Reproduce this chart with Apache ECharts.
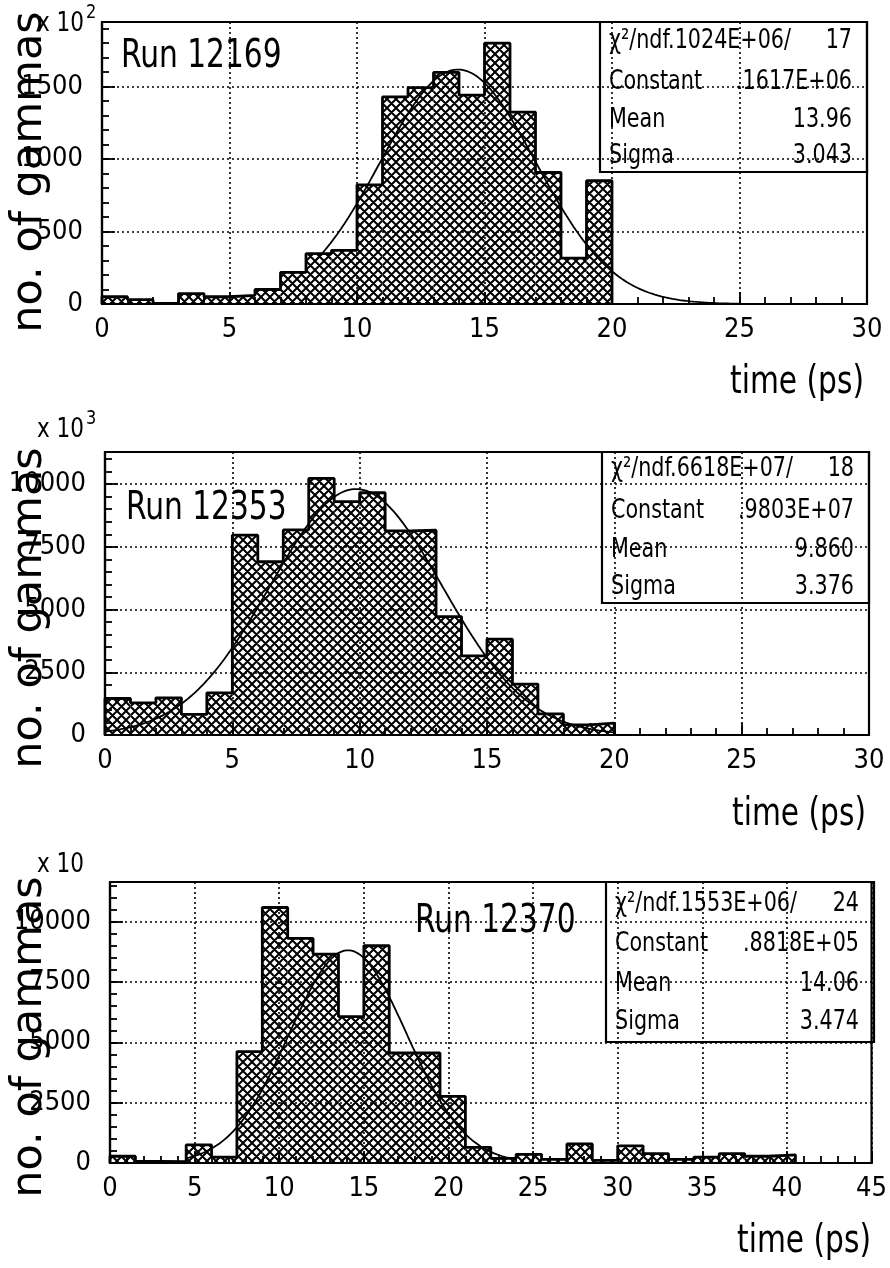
<!DOCTYPE html>
<html>
<head>
<meta charset="utf-8">
<script src="https://cdn.jsdelivr.net/npm/echarts@6/dist/echarts.min.js"></script>
<style>
  html, body { margin: 0; padding: 0; background: #fff; }
  #chart { width: 890px; height: 1268px; }
</style>
</head>
<body>
<div id="chart"></div>
<script>
// ---- Histogram contents (counts per bin, in units of the axis multiplier) ----
const runNames = ['Run 12169', 'Run 12353', 'Run 12370'];
const binWidths = [1, 1, 1.5];

const counts12169 = [50, 30, 5, 72, 50, 60, 100, 218, 347, 370,
                     822, 1428, 1493, 1597, 1440, 1799, 1324, 907, 317, 850];
const counts12353 = [1455, 1283, 1481, 820, 1680, 7963, 6905, 8175, 10225, 9300,
                     9656, 8135, 8161, 4720, 3150, 3820, 2030, 840, 400, 470];
const counts12370 = [280, 70, 60, 750, 240, 4620, 10593, 9310, 8662, 6069,
                     9007, 4560, 4560, 2759, 650, 190, 360, 150, 790, 110,
                     710, 390, 150, 240, 390, 280, 340];

// ---- Gaussian fit results (constant in axis units) ----
const fitConstant = [1617, 9803, 8818];
const fitMean = [13.96, 9.860, 14.06];
const fitSigma = [3.043, 3.376, 3.474];
const fitFrom = [8.4, 0, 4.5];
const fitTo = [25, 20, 24];

// ---- Statistics box text ----
const chiText = ['\u03C7\u00B2/ndf.1024E+06/', '\u03C7\u00B2/ndf.6618E+07/', '\u03C7\u00B2/ndf.1553E+06/'];
const ndfText = ['17', '18', '24'];
const constantText = ['.1617E+06', '.9803E+07', '.8818E+05'];
const meanText = ['13.96', '9.860', '14.06'];
const sigmaText = ['3.043', '3.376', '3.474'];

// ---- Axes ----
const xMax = [30, 30, 45];
const yMax = [1945, 11280, 11650];
const yMajor = [500, 2500, 2500];
const yMinor = [100, 500, 500];
const xMajor = 5, xMinor = 1;
const multiplier = ['2', '3', ''];   // exponent shown as "x 10^n"

// ---- Layout ----
const NARROW = '"Liberation Sans Narrow", "DejaVu Sans Condensed", "Arial Narrow", sans-serif';
const grids = [
  { left: 102, top: 22,  width: 765, height: 282 },
  { left: 105, top: 452, width: 764, height: 283 },
  { left: 110, top: 882, width: 764, height: 281 }
];

// cross-hatch fill tile
function makeHatch(size, lw) {
  const c = document.createElement('canvas');
  c.width = c.height = size;
  const g = c.getContext('2d');
  g.strokeStyle = '#000';
  g.lineWidth = lw;
  g.beginPath();
  for (const k of [-size, 0, size]) {
    g.moveTo(k, 0); g.lineTo(k + size, size);
    g.moveTo(k + size, 0); g.lineTo(k, size);
  }
  g.stroke();
  return c;
}
const hatch = { type: 'pattern', image: makeHatch(9, 2.0), repeat: 'repeat' };

const allCounts = [counts12169, counts12353, counts12370];
const DOTS = { color: '#000', width: 1.6, type: [2, 3] };

const xAxes = [], yAxes = [], series = [], graphics = [];

grids.forEach((gr, i) => {
  const base = { gridIndex: i, type: 'value', min: 0 };
  // major x axis with labels and dotted grid
  xAxes.push(Object.assign({}, base, {
    max: xMax[i], interval: xMajor, position: 'bottom',
    axisLine: { show: true, lineStyle: { color: '#000', width: 2.2 } },
    axisTick: { show: true, inside: true, length: 12, lineStyle: { color: '#000', width: 1.8 } },
    axisLabel: { show: true, margin: 12, color: '#000', fontSize: 27, fontFamily: NARROW,
      formatter: v => (v % xMajor === 0 ? String(v) : '') },
    splitLine: { show: true, lineStyle: DOTS }
  }));
  // minor x ticks
  xAxes.push(Object.assign({}, base, {
    max: xMax[i], interval: xMinor, position: 'bottom',
    axisLine: { show: false },
    axisTick: { show: true, inside: true, length: 7, lineStyle: { color: '#000', width: 1.8 } },
    axisLabel: { show: false },
    splitLine: { show: false }
  }));
  // major y axis
  yAxes.push(Object.assign({}, base, {
    max: yMax[i], interval: yMajor[i], position: 'left',
    axisLine: { show: true, lineStyle: { color: '#000', width: 2.2 } },
    axisTick: { show: true, inside: true, length: 13, lineStyle: { color: '#000', width: 1.8 } },
    axisLabel: { show: true, margin: 19, color: '#000', fontSize: 27, fontFamily: NARROW,
      formatter: v => (v % yMajor[i] === 0 ? String(v) : '') },
    splitLine: { show: true, lineStyle: DOTS }
  }));
  // minor y ticks
  yAxes.push(Object.assign({}, base, {
    max: yMax[i], interval: yMinor[i], position: 'left',
    axisLine: { show: false },
    axisTick: { show: true, inside: true, length: 7, lineStyle: { color: '#000', width: 1.8 } },
    axisLabel: { show: false },
    splitLine: { show: false }
  }));

  const w = binWidths[i];
  const counts = allCounts[i];
  const bins = counts.map((v, k) => [k * w, (k + 1) * w, v]);

  // hatched bins
  series.push({
    type: 'custom',
    xAxisIndex: 2 * i, yAxisIndex: 2 * i,
    data: bins,
    encode: { x: [0, 1], y: 2 },
    z: 3,
    renderItem: (params, api) => {
      const p0 = api.coord([api.value(0), api.value(2)]);
      const p1 = api.coord([api.value(1), 0]);
      return {
        type: 'rect',
        shape: { x: p0[0], y: p0[1], width: p1[0] - p0[0], height: p1[1] - p0[1] },
        style: { fill: hatch, stroke: null }
      };
    }
  });

  // step outline of the histogram
  const outline = [[0, 0]];
  counts.forEach((v, k) => outline.push([k * w, v]));
  outline.push([counts.length * w, 0]);
  series.push({
    type: 'line', step: 'end',
    xAxisIndex: 2 * i, yAxisIndex: 2 * i,
    data: outline, showSymbol: false, z: 4,
    lineStyle: { color: '#000', width: 2.8 }
  });

  // Gaussian fit curve
  const fit = [];
  const nPts = 240;
  for (let k = 0; k <= nPts; k++) {
    const x = fitFrom[i] + (fitTo[i] - fitFrom[i]) * k / nPts;
    const z = (x - fitMean[i]) / fitSigma[i];
    fit.push([x, fitConstant[i] * Math.exp(-0.5 * z * z)]);
  }
  series.push({
    type: 'line',
    xAxisIndex: 2 * i, yAxisIndex: 2 * i,
    data: fit, showSymbol: false, z: 5,
    lineStyle: { color: '#000', width: 1.8 }
  });
});

// ---- Text and statistics boxes ----
const gammasY = [172, 608, 1037];
const expY = [24, 430, 865];
const runPos = [[121, 57], [126, 509], [415, 922]];
const timeY = [383, 815, 1242];
const boxes = [
  { x0: 600, x1: 867, y0: 22, y1: 172, rows: [41, 82, 120, 156] },
  { x0: 602, x1: 869, y0: 452, y1: 603, rows: [469, 511, 550, 587] },
  { x0: 606, x1: 874, y0: 882, y1: 1042, rows: [904, 944, 984, 1022] }
];

// text element placed at (x, y) and stretched vertically by sy
function txt(text, x, y, size, align, sy, family, extra) {
  return Object.assign({
    type: 'text', z: 20, x: x, y: y, scaleX: 1, scaleY: sy || 1,
    style: {
      text: text, x: 0, y: 0, fill: '#000',
      font: size + 'px ' + (family || NARROW),
      textAlign: align || 'left', textVerticalAlign: 'middle'
    }
  }, extra || {});
}

for (let i = 0; i < 3; i++) {
  graphics.push(txt('no. of gammas', 30, gammasY[i], 43, 'center', 1, '"DejaVu Sans", sans-serif',
    { rotation: Math.PI / 2 }));
  graphics.push(txt('x 10', 84, expY[i], 24, 'right', 1.1));
  if (multiplier[i]) graphics.push(txt(multiplier[i], 86, expY[i] - 11, 18, 'left', 1.1));
  graphics.push(txt(runNames[i], runPos[i][0], runPos[i][1], 33, 'left', 1.2));
  graphics.push(txt('time (ps)', grids[i].left + grids[i].width - 3, timeY[i], 33, 'right', 1.2));

  const b = boxes[i];
  graphics.push({
    type: 'rect', z: 19,
    shape: { x: b.x0, y: b.y0, width: b.x1 - b.x0, height: b.y1 - b.y0 },
    style: { fill: 'rgba(0,0,0,0)', stroke: '#000', lineWidth: 2.2 }
  });
  const lx = b.x0 + 9, rx = b.x1 - 15;
  const fs = 23, sy = 1.15;
  graphics.push(txt(chiText[i], lx, b.rows[0], fs, 'left', sy));
  graphics.push(txt(ndfText[i], rx, b.rows[0], fs, 'right', sy));
  graphics.push(txt('Constant', lx, b.rows[1], fs, 'left', sy));
  graphics.push(txt(constantText[i], rx, b.rows[1], fs, 'right', sy));
  graphics.push(txt('Mean', lx, b.rows[2], fs, 'left', sy));
  graphics.push(txt(meanText[i], rx, b.rows[2], fs, 'right', sy));
  graphics.push(txt('Sigma', lx, b.rows[3], fs, 'left', sy));
  graphics.push(txt(sigmaText[i], rx, b.rows[3], fs, 'right', sy));
}

const chart = echarts.init(document.getElementById('chart'), null, { renderer: 'canvas' });
chart.setOption({
  backgroundColor: '#fff',
  animation: false,
  grid: grids.map(g => Object.assign({
    show: true, borderColor: '#000', borderWidth: 2.2, backgroundColor: 'transparent',
    containLabel: false
  }, g)),
  xAxis: xAxes,
  yAxis: yAxes,
  series: series,
  graphic: graphics
});
</script>
</body>
</html>
